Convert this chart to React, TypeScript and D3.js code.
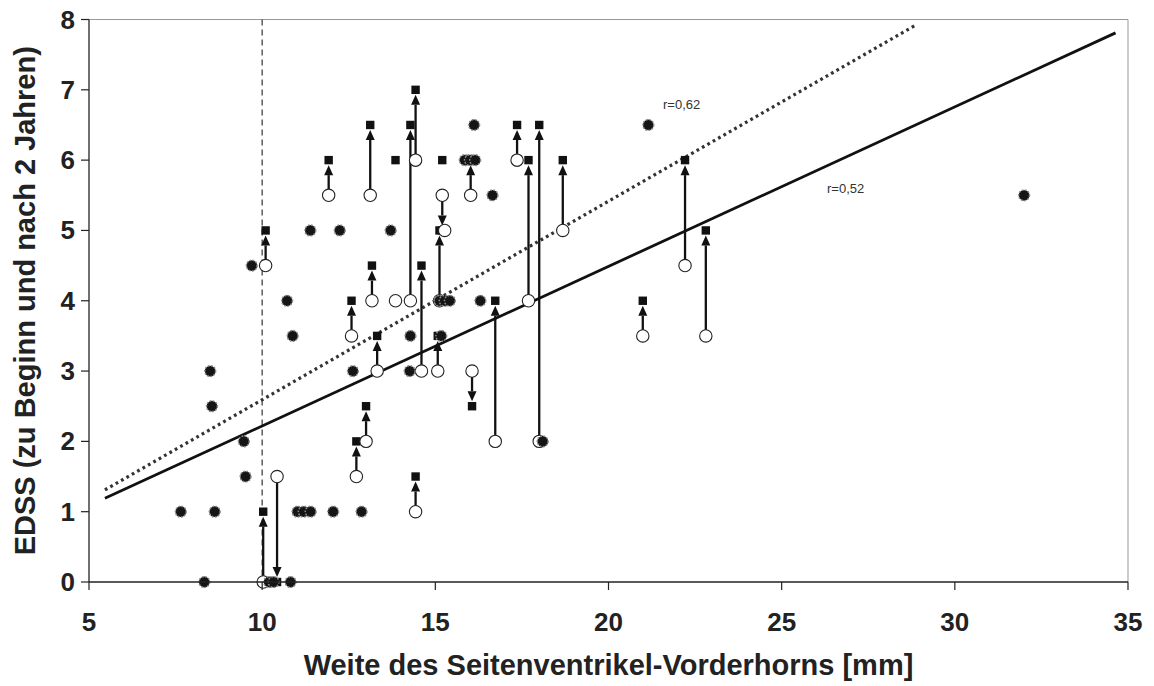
import React from 'react';
import * as d3 from 'd3';

// EDSS vs. lateral ventricle anterior horn width
const xTicks = [5, 10, 15, 20, 25, 30, 35];
const yTicks = [0, 1, 2, 3, 4, 5, 6, 7, 8];

// patients with unchanged EDSS (filled dots)
const stableX = [7.65, 8.33, 8.5, 8.55, 8.63, 9.47, 9.52, 9.7, 10.2, 10.33, 10.72, 10.82, 10.88, 11.02, 11.2, 11.4, 11.39, 12.05, 12.24, 12.62, 12.87, 13.71, 14.26, 14.28, 15.12, 15.27, 15.42, 15.17, 15.85, 16.0, 16.15, 16.12, 16.3, 16.65, 18.1, 21.15, 32.0];
const stableY = [1, 0, 3, 2.5, 1, 2, 1.5, 4.5, 0, 0, 4, 0, 3.5, 1, 1, 1, 5, 1, 5, 3, 1, 5, 3, 3.5, 4, 4, 4, 3.5, 6, 6, 6, 6.5, 4, 5.5, 2, 6.5, 5.5];

// patients with changed EDSS: width, EDSS at start, EDSS after 2 years
const changeX = [10.03, 10.43, 10.1, 11.92, 12.58, 12.72, 13.0, 13.12, 13.17, 13.32, 14.28, 14.43, 14.43, 14.6, 15.07, 15.12, 15.2, 16.02, 16.06, 16.73, 17.36, 17.69, 18.0, 18.68, 20.99, 22.21, 22.81];
const changeFrom = [0, 1.5, 4.5, 5.5, 3.5, 1.5, 2, 5.5, 4, 3, 4, 6, 1, 3, 3, 4, 5.5, 5.5, 3, 2, 6, 4, 2, 5, 3.5, 4.5, 3.5];
const changeTo = [1, 0, 5, 6, 4, 2, 2.5, 6.5, 4.5, 3.5, 6.5, 7, 1.5, 4.5, 3.5, 5, 5, 6, 2.5, 4, 6.5, 6, 6.5, 6, 4, 6, 5];

// markers without a partner
const loneOpenX = [13.85, 15.27];
const loneOpenY = [4, 5];
const loneSquareX = [13.85, 15.2];
const loneSquareY = [6, 6];

// regression lines (end points)
const solidX = [5.46, 34.64];
const solidY = [1.19, 7.81];
const dottedX = [5.46, 28.87];
const dottedY = [1.31, 7.92];
const solidLabel = 'r=0,52';
const dottedLabel = 'r=0,62';

const W = 1154;
const H = 686;
const margin = { top: 19.5, right: 26, bottom: 104, left: 89 };
const font = '"Liberation Sans", Arial, sans-serif';

export default function App() {
  const x = d3.scaleLinear().domain([5, 35]).range([margin.left, W - margin.right]);
  const y = d3.scaleLinear().domain([0, 8]).range([H - margin.bottom, margin.top]);
  const x0 = x(5), x1 = x(35), y0 = y(0), y1 = y(8);

  const line = d3.line<[number, number]>().x(d => x(d[0])).y(d => y(d[1]));
  const solidPts = solidX.map((v, i) => [v, solidY[i]] as [number, number]);
  const dottedPts = dottedX.map((v, i) => [v, dottedY[i]] as [number, number]);

  const changes = changeX.map((v, i) => ({ x: v, from: changeFrom[i], to: changeTo[i] }));

  const headLen = 10, headW = 4.5, tipGap = 5;
  const sq = 8.4;

  return (
    <svg width={W} height={H} style={{ position: 'absolute', left: 0, top: 0, background: '#fff' }}>
      {/* plot frame */}
      <line x1={x0} x2={x1} y1={y1} y2={y1} stroke="#999" strokeWidth={1} />
      <line x1={x1} x2={x1} y1={y1} y2={y0} stroke="#999" strokeWidth={1} />

      {/* reference line at 10 mm */}
      <line x1={x(10)} x2={x(10)} y1={y1} y2={y0} stroke="#444" strokeWidth={1.3} strokeDasharray="6,4" />

      {/* regression lines */}
      <path d={line(dottedPts) || ''} fill="none" stroke="#333" strokeWidth={3.2} strokeDasharray="2.8,3.4" />
      <path d={line(solidPts) || ''} fill="none" stroke="#111" strokeWidth={2.8} />
      <text x={663} y={109} fontFamily={font} fontSize={13} fill="#333">{dottedLabel}</text>
      <text x={827} y={193} fontFamily={font} fontSize={13} fill="#333">{solidLabel}</text>

      {/* arrows */}
      {changes.map((c, i) => {
        const cx = x(c.x);
        const ys = y(c.from), ye = y(c.to);
        const dir = ye < ys ? -1 : 1; // -1 = up
        const tip = ye - dir * tipGap;
        const base = tip - dir * headLen;
        return (
          <g key={'a' + i}>
            <line x1={cx} x2={cx} y1={ys} y2={base} stroke="#111" strokeWidth={2.3} />
            <path d={`M${cx},${tip}L${cx - headW},${base}L${cx + headW},${base}Z`} fill="#111" />
          </g>
        );
      })}

      {/* follow-up squares */}
      {changes.map((c, i) => (
        <rect key={'s' + i} x={x(c.x) - sq / 2} y={y(c.to) - sq / 2} width={sq} height={sq} fill="#111" />
      ))}
      {loneSquareX.map((v, i) => (
        <rect key={'ls' + i} x={x(v) - sq / 2} y={y(loneSquareY[i]) - sq / 2} width={sq} height={sq} fill="#111" />
      ))}

      {/* baseline open circles */}
      {changes.map((c, i) => (
        <circle key={'o' + i} cx={x(c.x)} cy={y(c.from)} r={6.2} fill="#fff" stroke="#222" strokeWidth={1.1} />
      ))}
      {loneOpenX.map((v, i) => (
        <circle key={'lo' + i} cx={x(v)} cy={y(loneOpenY[i])} r={6.2} fill="#fff" stroke="#222" strokeWidth={1.1} />
      ))}

      {/* unchanged filled dots */}
      {stableX.map((v, i) => (
        <circle key={'f' + i} cx={x(v)} cy={y(stableY[i])} r={5.4} fill="#151515" stroke="#8a8a8a" strokeWidth={1.5} strokeDasharray="1.7,1.5" />
      ))}

      {/* axes */}
      <line x1={x0} x2={x0} y1={y1} y2={y0} stroke="#222" strokeWidth={1.3} />
      <line x1={x0} x2={x1} y1={y0} y2={y0} stroke="#222" strokeWidth={1.3} />
      {yTicks.map(t => (
        <g key={'yt' + t}>
          <line x1={x0 - 8} x2={x0} y1={y(t)} y2={y(t)} stroke="#222" strokeWidth={1.2} />
          <text x={x0 - 14} y={y(t) + 9} textAnchor="end" fontFamily={font} fontWeight="bold" fontSize={26} fill="#222">{t}</text>
        </g>
      ))}
      {xTicks.map(t => (
        <g key={'xt' + t}>
          <line x1={x(t)} x2={x(t)} y1={y0} y2={y0 + 8} stroke="#222" strokeWidth={1.2} />
          <text x={x(t)} y={631} textAnchor="middle" fontFamily={font} fontWeight="bold" fontSize={26} fill="#222">{t}</text>
        </g>
      ))}

      {/* axis titles */}
      <text x={(x0 + x1) / 2} y={675} textAnchor="middle" fontFamily={font} fontWeight="bold" fontSize={29} fill="#222">
        Weite des Seitenventrikel-Vorderhorns [mm]
      </text>
      <text transform={`translate(35,${(y0 + y1) / 2}) rotate(-90)`} textAnchor="middle" fontFamily={font} fontWeight="bold" fontSize={29} fill="#222">
        EDSS (zu Beginn und nach 2 Jahren)
      </text>
    </svg>
  );
}
